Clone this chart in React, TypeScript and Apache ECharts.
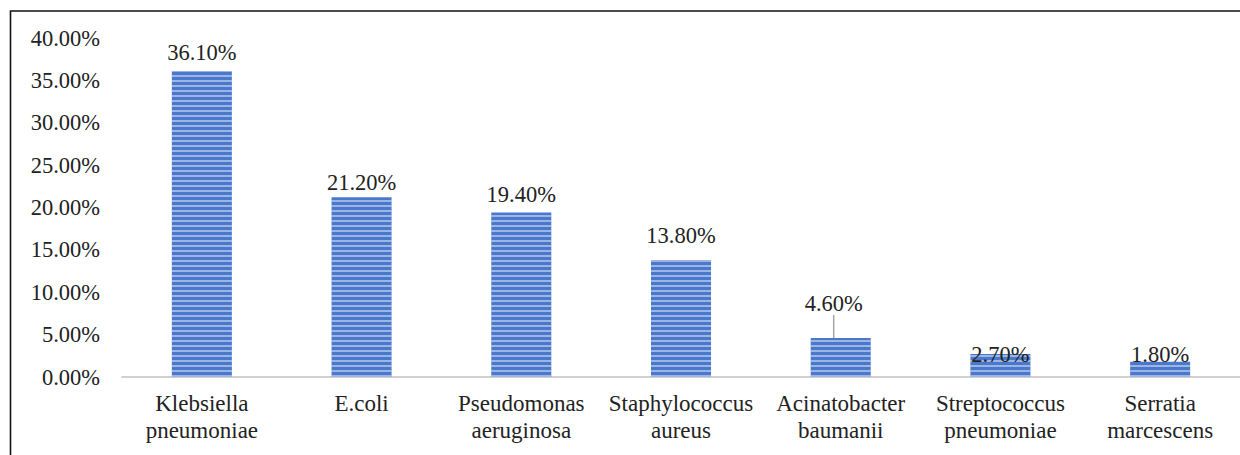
import React, { useEffect, useRef } from "react";
import * as echarts from "echarts";

const categories = [
  "Klebsiella\npneumoniae",
  "E.coli",
  "Pseudomonas\naeruginosa",
  "Staphylococcus\naureus",
  "Acinatobacter\nbaumanii",
  "Streptococcus\npneumoniae",
  "Serratia\nmarcescens",
];
const values = [36.1, 21.2, 19.4, 13.8, 4.6, 2.7, 1.8];
const yMax = 40;
const yInterval = 5;
// label placement tweaks (distance above bar top, extra shift)
const labelDistance = [7, 3, 7, 13, 6, -12, -4];
const labelShift: Array<[number, number]> = [[0, 0], [0, 0], [0, 0], [0, 0], [-7, -17], [0, 0], [0, 0]];

export default function App() {
  const ref = useRef<HTMLDivElement>(null);
  useEffect(() => {
    if (!ref.current) return;
    const chart = echarts.init(ref.current, null, { renderer: "svg" });
    const font = "Liberation Serif";
    chart.setOption({
      animation: false,
      textStyle: { fontFamily: font },
      grid: { left: 122, width: 1120, top: 38, bottom: 78 },
      graphic: [
        {
          type: "rect",
          shape: { x: 10.5, y: 11, width: 1400, height: 600 },
          style: { fill: "none", stroke: "#111", lineWidth: 1.6 },
          silent: true,
          z: 100,
        },
      ],
      xAxis: {
        type: "category",
        data: categories,
        axisLine: { lineStyle: { color: "#d0d0d0", width: 2 } },
        axisTick: { show: false },
        axisLabel: {
          fontFamily: font,
          fontSize: 23,
          color: "#222",
          margin: 13,
          interval: 0,
          formatter: (v: string) =>
            v
              .split("\n")
              .map((s) => `{c|${s}}`)
              .join("\n"),
          rich: {
            c: { fontFamily: font, fontSize: 23, lineHeight: 27, color: "#222" },
          },
        },
      },
      yAxis: {
        type: "value",
        min: 0,
        max: yMax,
        interval: yInterval,
        splitLine: { show: false },
        axisLine: { show: false },
        axisTick: { show: false },
        axisLabel: {
          fontFamily: font,
          fontSize: 22.5,
          color: "#222",
          margin: 22,
          formatter: (v: number) => `${v.toFixed(2)}%`,
        },
      },
      series: [
        {
          type: "bar",
          barWidth: 60,
          data: values.map((v, i) => ({
            value: v,
            label: { distance: labelDistance[i] },
            labelLine: { show: i === 4 },
          })),
          itemStyle: {
            color: "#4a78cc",
            decal: {
              symbol: "rect",
              symbolSize: 1,
              dashArrayX: [1, 0],
              dashArrayY: [1.5, 2.5],
              rotation: 0,
              color: "rgba(255,255,255,0.45)",
            },
          },
          label: {
            show: true,
            position: "top",
            fontFamily: font,
            fontSize: 22.5,
            color: "#222",
            formatter: (p: any) => `${p.value.toFixed(2)}%`,
          },
          labelLine: { lineStyle: { color: "#a6a6a6", width: 1.5 } },
          labelLayout: (p: any) => ({ dx: labelShift[p.dataIndex][0], dy: labelShift[p.dataIndex][1] }),
        },
      ],
    });
    return () => chart.dispose();
  }, []);
  return (
    <div
      ref={ref}
      style={{ position: "fixed", left: 0, top: 0, width: 1240, height: 455, background: "#fff" }}
    />
  );
}
